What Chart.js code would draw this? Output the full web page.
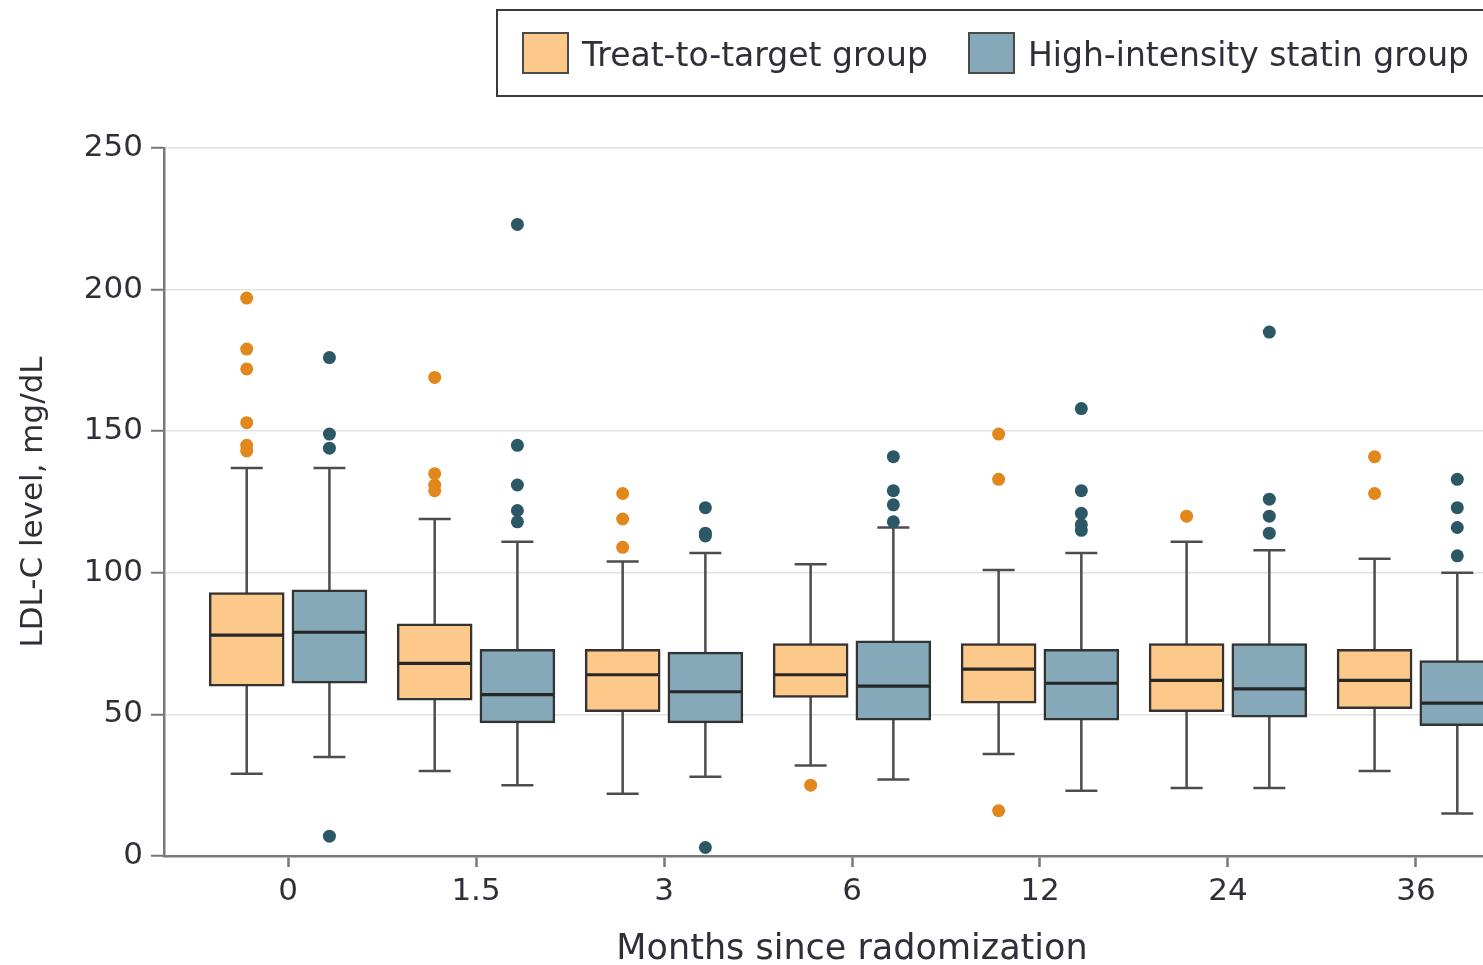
<!DOCTYPE html>
<html>
<head>
<meta charset="utf-8">
<script src="https://cdn.jsdelivr.net/npm/chart.js@4"></script>
<style>
  html, body { margin: 0; padding: 0; background: #fff; overflow: hidden; width: 1483px; height: 965px; }
  .wrap { position: absolute; left: 0; top: 0; width: 1560px; height: 971px; }
  .legend {
    position: absolute; left: 496px; top: 9px; width: 1100px; height: 84px;
    border: 2px solid #3a3a3a; box-sizing: content-box;
    font-family: "DejaVu Sans", sans-serif; font-size: 33px; color: #2f2f3a;
  }
  .legend span.item { position: absolute; top: 22px; height: 44px; line-height: 44px; white-space: nowrap; }
  .legend i { display: inline-block; width: 43px; height: 38px; border: 2.5px solid #4a4a4a; vertical-align: middle; margin-right: 13px; margin-top: -8px; }
</style>
</head>
<body>
<div class="wrap"><canvas id="boxchart" width="1560" height="971"></canvas></div>
<div class="legend">
  <span class="item" style="left:24px"><i style="background:#fdc98a"></i>Treat-to-target group</span>
  <span class="item" style="left:470px"><i style="background:#85a9b8"></i>High-intensity statin group</span>
</div>
<script>
// months since randomization
const months = ['0', '1.5', '3', '6', '12', '24', '36'];

// treat-to-target group
const treatLow  = [29, 30, 22, 32, 36, 24, 30];
const treatQ1   = [60, 55, 51, 56, 54, 51, 52];
const treatMed  = [78, 68, 64, 64, 66, 62, 62];
const treatQ3   = [93, 82, 73, 75, 75, 75, 73];
const treatHigh = [137, 119, 104, 103, 101, 111, 105];
const treatOut  = [
  [197, 179, 172, 153, 145, 143],
  [169, 135, 131, 129],
  [128, 119, 109],
  [25],
  [149, 133, 16],
  [120],
  [141, 128]
];

// high-intensity statin group
const statinLow  = [35, 25, 28, 27, 23, 24, 15];
const statinQ1   = [61, 47, 47, 48, 48, 49, 46];
const statinMed  = [79, 57, 58, 60, 61, 59, 54];
const statinQ3   = [94, 73, 72, 76, 73, 75, 69];
const statinHigh = [137, 111, 107, 116, 107, 108, 100];
const statinOut  = [
  [176, 149, 144, 7],
  [223, 145, 131, 122, 118],
  [123, 114, 113, 3],
  [141, 129, 124, 118],
  [158, 129, 121, 117, 115],
  [185, 126, 120, 114],
  [133, 123, 116, 106]
];

const yTicks = [0, 50, 100, 150, 200, 250];

const shift = 0.22;   // half distance between the two boxes, in category units
const groups = [
  { off: -shift, low: treatLow, q1: treatQ1, med: treatMed, q3: treatQ3, high: treatHigh },
  { off: shift, low: statinLow, q1: statinQ1, med: statinMed, q3: statinQ3, high: statinHigh }
];

const whiskers = {
  id: 'whiskers',
  beforeDatasetsDraw(chart) {
    const c = chart.ctx, x = chart.scales.x, y = chart.scales.y;
    c.save();
    c.strokeStyle = '#4d4d4d';
    c.lineWidth = 2.5;
    groups.forEach(g => {
      months.forEach((m, i) => {
        const px = x.getPixelForValue(i + g.off);
        const top = y.getPixelForValue(g.high[i]);
        const bot = y.getPixelForValue(g.low[i]);
        c.beginPath();
        c.moveTo(px, top); c.lineTo(px, bot);
        c.moveTo(px - 16, top); c.lineTo(px + 16, top);
        c.moveTo(px - 16, bot); c.lineTo(px + 16, bot);
        c.stroke();
      });
    });
    c.restore();
  },
  afterDatasetsDraw(chart) {
    const c = chart.ctx, x = chart.scales.x, y = chart.scales.y;
    c.save();
    c.strokeStyle = '#262626';
    c.lineWidth = 3.2;
    groups.forEach(g => {
      months.forEach((m, i) => {
        const px = x.getPixelForValue(i + g.off);
        const py = y.getPixelForValue(g.med[i]);
        c.beginPath();
        c.moveTo(px - 36, py); c.lineTo(px + 36, py);
        c.stroke();
      });
    });
    c.restore();
  }
};

const ctx = document.getElementById('boxchart').getContext('2d');

const data = {
  datasets: [
    {
      type: 'scatter',
      label: 'Treat outliers',
      data: treatOut.flatMap((vals, i) => vals.map(v => ({ x: i - shift, y: v }))),
      backgroundColor: '#e2871c',
      borderWidth: 0,
      pointRadius: 6.5
    },
    {
      type: 'scatter',
      label: 'Statin outliers',
      data: statinOut.flatMap((vals, i) => vals.map(v => ({ x: i + shift, y: v }))),
      backgroundColor: '#2c5866',
      borderWidth: 0,
      pointRadius: 6.5
    },
    {
      label: 'Treat-to-target group',
      data: months.map((m, i) => ({ x: i - shift, y: [treatQ1[i], treatQ3[i]] })),
      backgroundColor: '#fdc98a',
      borderColor: '#333',
      borderWidth: 2.5,
      borderSkipped: false,
      barThickness: 75,
      grouped: false
    },
    {
      label: 'High-intensity statin group',
      data: months.map((m, i) => ({ x: i + shift, y: [statinQ1[i], statinQ3[i]] })),
      backgroundColor: '#85a9b8',
      borderColor: '#333',
      borderWidth: 2.5,
      borderSkipped: false,
      barThickness: 75,
      grouped: false
    }
  ]
};

const config = {
  type: 'bar',
  data: data,
  plugins: [whiskers],
  options: {
    responsive: false,
    animation: false,
    layout: { padding: { top: 148, right: 20, left: 0, bottom: 0 } },
    plugins: { legend: { display: false }, tooltip: { enabled: false } },
    scales: {
      x: {
        type: 'linear',
        offset: false,
        min: -0.66,
        max: 6.66,
        afterBuildTicks: s => { s.ticks = months.map((m, i) => ({ value: i })); },
        afterFit: s => { s.height = 115; },
        ticks: {
          callback: v => months[v],
          font: { family: 'DejaVu Sans', size: 31 },
          color: '#2f2f3a',
          padding: 6,
          maxRotation: 0
        },
        grid: { offset: false, drawOnChartArea: false, drawTicks: true, tickLength: 11, tickColor: '#777', tickWidth: 2.5 },
        border: { color: '#7a7a7a', width: 2.5 },
        title: {
          display: true,
          text: 'Months since radomization',
          font: { family: 'DejaVu Sans', size: 35 },
          color: '#2f2f3a',
          padding: { top: 6, bottom: 0 }
        }
      },
      y: {
        min: 0,
        max: 250,
        afterBuildTicks: s => { s.ticks = yTicks.map(v => ({ value: v })); },
        afterFit: s => { s.width = 164; },
        ticks: {
          font: { family: 'DejaVu Sans', size: 31 },
          color: '#2f2f3a',
          padding: 8
        },
        grid: { color: '#e2e2e2', lineWidth: 1.5, tickLength: 13, tickColor: '#777', tickWidth: 2 },
        border: { color: '#7a7a7a', width: 2.5 },
        title: {
          display: true,
          text: 'LDL-C level, mg/dL',
          font: { family: 'DejaVu Sans', size: 31 },
          color: '#2f2f3a',
          padding: { top: 15, bottom: 0 }
        }
      }
    }
  }
};

const myChart = new Chart(ctx, config);
</script>
</body>
</html>
